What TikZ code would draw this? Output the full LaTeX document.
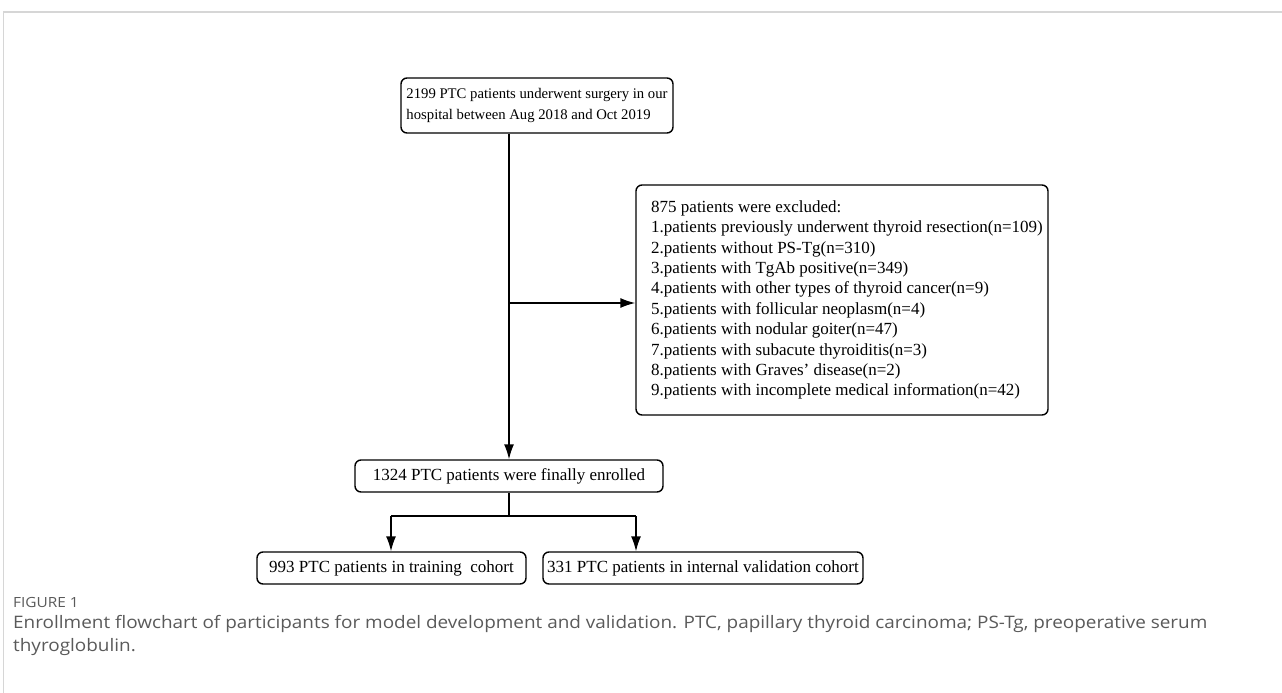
\documentclass[tikz,border=0pt]{standalone}
\usepackage{fontspec}
\setmainfont{Liberation Serif}
\newfontfamily\capfont[FakeStretch=1.1]{Open Sans}
\usetikzlibrary{arrows.meta}
\definecolor{framegray}{HTML}{D6D6D6}
\definecolor{capgray}{HTML}{5A5A5A}
\tikzset{
  box/.style={draw, line width=1.4pt, rounded corners=6pt, inner sep=0pt, font=\fontsize{17}{20.4}\selectfont, align=center},
  plain/.style={inner sep=0pt, align=left},
  conn/.style={line width=1.4pt},
  arr/.style={line width=1.4pt, -{Latex[length=15pt,width=10pt]}},
}
\begin{document}
\begin{tikzpicture}[x=1pt,y=-1pt]
\useasboundingbox (0,0) rectangle (1282,693);
\fill[white] (0,0) rectangle (1282,693);
% frame
\draw[framegray, line width=2pt] (3,12.5) -- (1282,12.5);
\draw[framegray, line width=0.8pt] (3.5,12) -- (3.5,693);
% boxes
\node[box, minimum width=272pt, minimum height=55pt, align=left, font=\fontsize{14.7}{21}\selectfont] (top) at (537,105.5) {2199 PTC patients underwent surgery in our\\hospital between Aug 2018 and Oct 2019};
\node[box, minimum width=412pt, minimum height=230pt] (excl) at (842,300) {};
\node[plain, anchor=west, font=\fontsize{17}{20.4}\selectfont] (excltext) at (651,300) {875 patients were excluded:\\
1.patients previously underwent thyroid resection(n=109)\\
2.patients without PS-Tg(n=310)\\
3.patients with TgAb positive(n=349)\\
4.patients with other types of thyroid cancer(n=9)\\
5.patients with follicular neoplasm(n=4)\\
6.patients with nodular goiter(n=47)\\
7.patients with subacute thyroiditis(n=3)\\
8.patients with Graves' disease(n=2)\\
9.patients with incomplete medical information(n=42)};
\node[box, minimum width=308pt, minimum height=32pt] (enr) at (509,476) {1324 PTC patients were finally enrolled};
\node[box, minimum width=269pt, minimum height=32pt] (train) at (391.5,568) {993 PTC patients in training\ \ cohort};
\node[box, minimum width=320pt, minimum height=32pt] (val) at (703,568) {331 PTC patients in internal validation cohort};
% connectors
\coordinate (mid) at (509,303);
\draw[arr] (509,0 |- top.south) -- (509,0 |- enr.north);
\draw[arr] (mid) -- (mid -| excl.west);
\coordinate (split) at (509,516);
\coordinate (sl) at (391,516);
\coordinate (sr) at (636,516);
\draw[conn] (509,0 |- enr.south) -- (split);
\draw[conn] (sl) -- (sr);
\draw[arr] (sl) -- (sl |- train.north);
\draw[arr] (sr) -- (sr |- val.north);
% caption
\node[anchor=west, inner sep=0pt, text=capgray, font=\capfont\fontsize{14}{16}\selectfont] (fig) at (13,602) {FIGURE 1};
\node[anchor=north west, inner sep=0pt, text=capgray, align=left, font=\capfont\fontsize{17.2}{23}\selectfont] (cap) at (13,615) {Enrollment flowchart of participants for model development and validation. PTC, papillary thyroid carcinoma; PS-Tg, preoperative serum\\thyroglobulin.};
\end{tikzpicture}
\end{document}
